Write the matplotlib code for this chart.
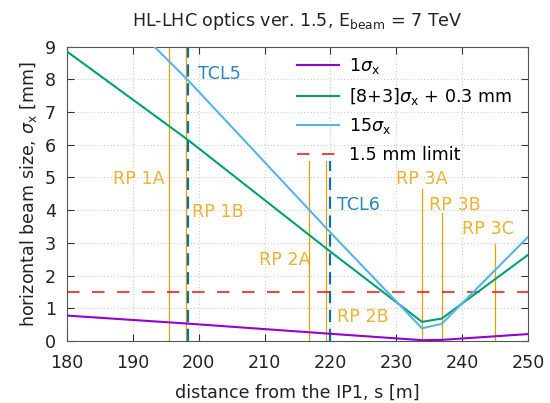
import matplotlib
matplotlib.use('Agg')
import matplotlib.pyplot as plt
import numpy as np

# beam size 1 sigma_x [mm] along s [m]
s = [180.0, 198.4, 220.0, 233.9, 236.9, 250.0]
sigma = [0.777, 0.531, 0.221, 0.026, 0.035, 0.212]

# Roman pots: position, top of marker line, label position
rp_names = ['RP 1A', 'RP 1B', 'RP 2A', 'RP 2B', 'RP 3A', 'RP 3B', 'RP 3C']
rp_s = [195.45, 198.0, 216.8, 219.35, 233.9, 236.95, 245.0]
rp_top = [9.0, 9.0, 5.5, 5.5, 4.65, 3.9, 2.95]
rp_lab_s = [190.9, 202.9, 213.0, 224.9, 233.9, 238.96, 243.97]
rp_lab_y = [4.96, 3.94, 2.47, 0.74, 4.94, 4.15, 3.41]

# collimators
tcl_names = ['TCL5', 'TCL6']
tcl_s = [198.4, 219.95]
tcl_top = [9.0, 5.5]
tcl_lab_s = [203.1, 224.3]
tcl_lab_y = [8.16, 4.15]

limit = 1.5

sig = np.array(sigma)
env1 = 11 * sig + 0.3   # [8+3] sigma + 0.3 mm
env2 = 15 * sig

plt.rcParams['font.family'] = 'DejaVu Sans'
fig = plt.figure(figsize=(5.5, 4.03), dpi=100)
ax = fig.add_axes([0.1218, 0.1538, 0.8382, 0.7308])

orange = '#e69f00'
blue = '#0072b2'
fs = 12.6

for x, top in zip(rp_s, rp_top):
    ax.plot([x, x], [0, top], color=orange, lw=0.9, zorder=2)
for name, x, y in zip(rp_names, rp_lab_s, rp_lab_y):
    ax.text(x, y, name, color=orange, fontsize=fs, ha='center', va='center', alpha=0.8)

for x, top in zip(tcl_s, tcl_top):
    ax.plot([x, x], [0, top], color=blue, lw=1.6, dashes=(5.5, 3), zorder=3)
for name, x, y in zip(tcl_names, tcl_lab_s, tcl_lab_y):
    ax.text(x, y, name, color=blue, fontsize=fs, ha='center', va='center', alpha=0.85)

ax.plot(s, sig, color='#9400d3', lw=1.5, label=r'1$\sigma_{\rm x}$', zorder=4)
ax.plot(s, env1, color='#009e73', lw=1.5, label=r'[8+3]$\sigma_{\rm x}$ + 0.3 mm', zorder=4)
ax.plot(s, env2, color='#56b4e9', lw=1.5, label=r'15$\sigma_{\rm x}$', zorder=4)
ax.axhline(limit, color='#e51e10', lw=1.5, dashes=(6, 6), alpha=0.8,
           label='1.5 mm limit', zorder=3)

ax.set_xlim(180, 250)
ax.set_ylim(0, 9)
ax.set_xticks(range(180, 251, 10))
ax.set_yticks(range(0, 10))
ax.grid(True, color='#b0b0b0', lw=0.6, ls=(0, (1, 3)))
ax.tick_params(direction='in', top=True, right=True, length=5, labelsize=fs,
               color='#333333', labelcolor='#222222')
ax.tick_params(axis='x', pad=9)
ax.tick_params(axis='y', pad=8)
for sp in ax.spines.values():
    sp.set_color('#555555')

ax.set_xlabel('distance from the IP1, s [m]', fontsize=fs, color='#222222', labelpad=9)
ax.set_ylabel(r'horizontal beam size, $\sigma_{\rm x}$ [mm]', fontsize=fs, color='#222222')
ax.set_title(r'HL-LHC optics ver. 1.5, E$_{\rm beam}$ = 7 TeV', fontsize=fs,
             color='#222222', pad=15)

leg = ax.legend(loc='upper right', bbox_to_anchor=(512 / 550, 1 - 56 / 403),
                bbox_transform=fig.transFigure, frameon=False,
                fontsize=fs, handlelength=2.4, handletextpad=0.55,
                labelspacing=0.55, borderaxespad=0, borderpad=0)
leg.set_zorder(5)

fig.savefig('out.png', dpi=100)
